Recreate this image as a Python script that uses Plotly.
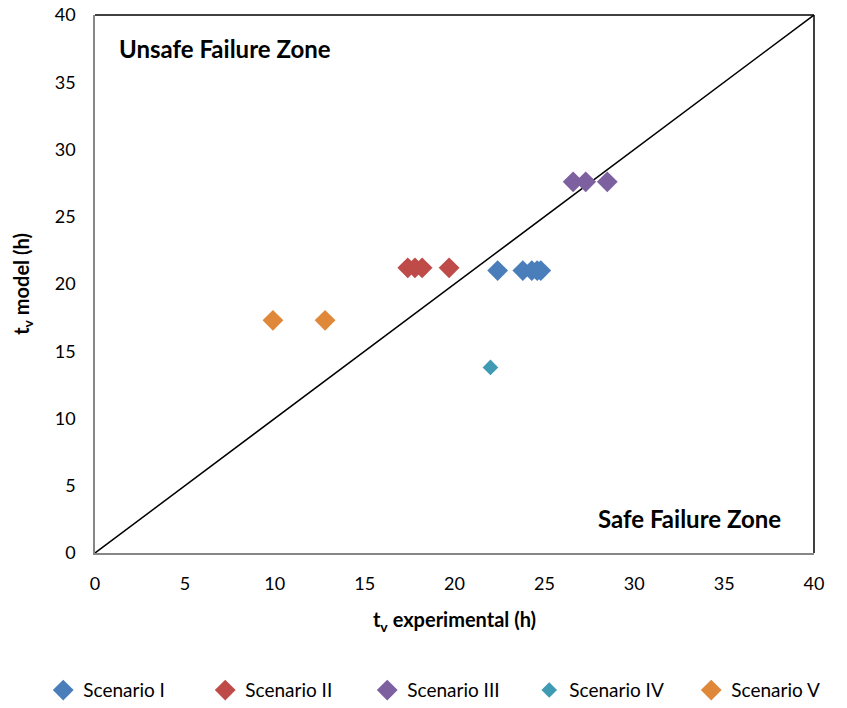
import plotly.graph_objects as go

# Predicted vs. experimental time (hours) per scenario
scenario_names = ["Scenario I", "Scenario II", "Scenario III", "Scenario IV", "Scenario V"]
exp_I = [22.4, 23.8, 24.3, 24.6, 24.8]
mod_I = [21.0, 21.0, 21.0, 21.0, 21.0]
exp_II = [17.4, 17.8, 18.2, 19.7]
mod_II = [21.2, 21.2, 21.2, 21.2]
exp_III = [26.6, 27.3, 28.5]
mod_III = [27.6, 27.6, 27.6]
exp_IV = [22.0]
mod_IV = [13.8]
exp_V = [9.9, 12.8]
mod_V = [17.3, 17.3]

# 1:1 reference line
diag_x = [0, 40]
diag_y = [0, 40]

colors = ["#4A7EBB", "#BE4B48", "#7D60A0", "#3F9BB3", "#E0883A"]
sizes = [16, 16, 16, 12, 16]
xs = [exp_I, exp_II, exp_III, exp_IV, exp_V]
ys = [mod_I, mod_II, mod_III, mod_IV, mod_V]

FONT = "Lato"

fig = go.Figure()
fig.add_trace(go.Scatter(x=diag_x, y=diag_y, mode="lines",
                         line=dict(color="black", width=1.5),
                         showlegend=False, hoverinfo="skip"))
for name, x, y, c, s in zip(scenario_names, xs, ys, colors, sizes):
    fig.add_trace(go.Scatter(x=x, y=y, mode="markers", name=name,
                             marker=dict(symbol="diamond", size=s, color=c,
                                         line=dict(width=0))))

axis_common = dict(range=[0, 40], dtick=5, showgrid=False, zeroline=False,
                   showline=True, linecolor="#868686", linewidth=1.5,
                   ticks="", tickfont=dict(family=FONT, size=18, color="#000"))

fig.update_layout(
    width=847, height=708,
    margin=dict(l=95, r=33, t=15, b=155, autoexpand=False),
    paper_bgcolor="white", plot_bgcolor="white",
    font=dict(family=FONT, color="#000"),
    xaxis=dict(**axis_common, ticklabelstandoff=14,
               title=dict(text="<b>t<sub>v</sub> experimental (h)</b>",
                          font=dict(family=FONT, size=20), standoff=20)),
    yaxis=dict(**axis_common, ticklabelstandoff=14,
               title=dict(text="<b>t<sub>v</sub> model (h)</b>",
                          font=dict(family=FONT, size=20), standoff=20)),
    legend=dict(orientation="h", x=-0.072, xanchor="left", y=-0.255, yanchor="middle",
                font=dict(family=FONT, size=19), entrywidth=117,
                entrywidthmode="pixels", itemsizing="trace", itemwidth=30,
                borderwidth=0),
    shapes=[
        dict(type="line", xref="x domain", yref="y domain", x0=0, x1=1, y0=1, y1=1,
             line=dict(color="black", width=1.5)),
        dict(type="line", xref="x domain", yref="y domain", x0=1, x1=1, y0=0, y1=1,
             line=dict(color="black", width=1.5)),
    ],
    annotations=[
        dict(text="<b>Unsafe Failure Zone</b>", x=1.2, y=37.5, xref="x", yref="y",
             xanchor="left", yanchor="middle", showarrow=False,
             font=dict(family=FONT, size=24, color="#000")),
        dict(text="<b>Safe Failure Zone</b>", x=38.3, y=2.6, xref="x", yref="y",
             xanchor="right", yanchor="middle", showarrow=False,
             font=dict(family=FONT, size=24, color="#000")),
    ],
)

fig.write_html("out.html")
